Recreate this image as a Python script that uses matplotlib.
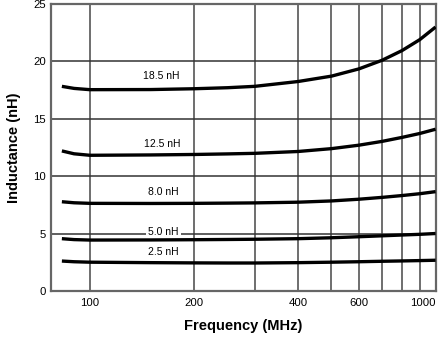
import matplotlib
matplotlib.use('Agg')
import matplotlib.pyplot as plt
from matplotlib.ticker import FixedLocator, NullFormatter

plt.rcParams['font.family'] = ['Liberation Sans', 'DejaVu Sans']

# frequency points (MHz)
freq = [83, 90, 100, 150, 200, 250, 300, 400, 500, 600, 700, 800, 900, 1000]

l_185 = [17.83, 17.65, 17.54, 17.55, 17.62, 17.71, 17.83, 18.25, 18.72, 19.35, 20.1, 20.95, 21.9, 23.0]
l_125 = [12.2, 11.95, 11.82, 11.85, 11.89, 11.94, 11.99, 12.15, 12.4, 12.7, 13.03, 13.38, 13.72, 14.09]
l_80 = [7.77, 7.68, 7.63, 7.62, 7.63, 7.65, 7.67, 7.73, 7.84, 7.99, 8.15, 8.31, 8.47, 8.65]
l_50 = [4.55, 4.47, 4.43, 4.44, 4.46, 4.48, 4.5, 4.55, 4.63, 4.72, 4.8, 4.87, 4.93, 5.0]
l_25 = [2.6, 2.54, 2.5, 2.46, 2.44, 2.43, 2.43, 2.46, 2.5, 2.54, 2.58, 2.61, 2.64, 2.67]

series = [l_185, l_125, l_80, l_50, l_25]
names = ['18.5 nH', '12.5 nH', '8.0 nH', '5.0 nH', '2.5 nH']
label_pos = [(161, 18.72), (162, 12.84), (163, 8.6), (163, 5.1), (163, 3.37)]

x_ticks = [100, 200, 400, 600, 1000]
x_grid = [100, 200, 300, 400, 500, 600, 700, 800, 900, 1000]
y_ticks = [0, 5, 10, 15, 20, 25]

fig = plt.figure(figsize=(4.44, 3.41), dpi=100)
ax = fig.add_axes([0.114, 0.147, 0.867, 0.841])

for x in x_grid:
    ax.axvline(x, color='#555555', lw=1.2, zorder=1)
for y in [5, 10, 15, 20]:
    ax.axhline(y, color='#333333', lw=1.1, zorder=1)

for ys in series:
    ax.plot(freq, ys, color='black', lw=2.4, solid_capstyle='butt', zorder=3)

for name, (x, y) in zip(names, label_pos):
    bbox = None
    if name == '5.0 nH':
        bbox = dict(facecolor='white', edgecolor='none', pad=1.5)
    ax.text(x, y, name, fontsize=7.5, ha='center', va='center', bbox=bbox, zorder=2)

ax.set_xscale('log')
ax.set_xlim(77, 1000)
ax.set_ylim(0, 25)
ax.xaxis.set_major_locator(FixedLocator(x_ticks))
ax.xaxis.set_major_formatter(plt.FixedFormatter([str(v) for v in x_ticks]))
ax.xaxis.set_minor_locator(FixedLocator([]))
ax.xaxis.set_minor_formatter(NullFormatter())
ax.set_yticks(y_ticks)
ax.tick_params(axis='both', length=0, labelsize=8.2, colors='black')
ax.tick_params(axis='x', pad=5)
ax.tick_params(axis='y', pad=3.5)
# last tick label sits flush with the right edge, as in the reference
ax.get_xticklabels()[-1].set_horizontalalignment('right')
ax.get_xticklabels()[-1].set_x(1000)

for side in ['left', 'bottom', 'top', 'right']:
    ax.spines[side].set_color('#666666')
    ax.spines[side].set_linewidth(1.6)

ax.set_xlabel('Frequency (MHz)', fontsize=10.5, fontweight='bold', labelpad=8)
ax.set_ylabel('Inductance (nH)', fontsize=10.5, fontweight='bold', labelpad=9)

fig.savefig('out.png', dpi=100)
